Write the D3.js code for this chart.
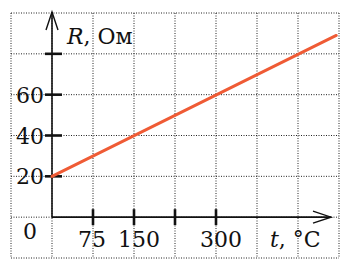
<!DOCTYPE html>
<html><head><meta charset="utf-8">
<script src="https://cdn.jsdelivr.net/npm/d3@7"></script>
<style>html,body{margin:0;padding:0;background:#fff;}</style>
</head><body>
<script>
// Data
const tValues = [0, 520];           // t, °C
const rValues = [20, 89];           // R, Ом
const xTicks = [75, 150, 225, 300];
const xTickLabels = ["75", "150", "", "300"];
const yTicks = [20, 40, 60, 80];
const yTickLabels = ["20", "40", "60", ""];
const xGrid = [-75, 0, 75, 150, 225, 300, 375, 450, 525];
const yGrid = [-20, 0, 20, 40, 60, 80, 100];

const W = 350, H = 268;
const svg = d3.select("body").append("svg").attr("width", W).attr("height", H);
const x = d3.scaleLinear().domain([-75, 525]).range([11, 339]);
const y = d3.scaleLinear().domain([-20, 100]).range([258, 13]);
const font = "'DejaVu Serif', 'Liberation Serif', serif";

// grid
const g = svg.append("g").attr("stroke", "#222").attr("stroke-width", 1).attr("stroke-dasharray", "1,1.5");
g.selectAll("line.v").data(xGrid).join("line")
  .attr("x1", d => x(d)).attr("x2", d => x(d)).attr("y1", y(100)).attr("y2", y(-20));
g.selectAll("line.h").data(yGrid).join("line")
  .attr("y1", d => y(d)).attr("y2", d => y(d)).attr("x1", x(-75)).attr("x2", x(525));

// axes
const ax = svg.append("g").attr("stroke", "#111").attr("fill", "none");
ax.append("line").attr("x1", x(0)).attr("x2", 331).attr("y1", y(0)).attr("y2", y(0)).attr("stroke-width", 1.6);
ax.append("line").attr("x1", x(0)).attr("x2", x(0)).attr("y1", y(0)).attr("y2", 12).attr("stroke-width", 1.6);
ax.append("path").attr("d", `M${313},${y(0)-6}L331,${y(0)}L${313},${y(0)+6}`).attr("stroke-width", 1.4);
ax.append("path").attr("d", `M${x(0)-6},30L${x(0)},12L${x(0)+6},30`).attr("stroke-width", 1.4);

// ticks
ax.selectAll("line.xt").data(xTicks).join("line")
  .attr("x1", d => x(d)).attr("x2", d => x(d)).attr("y1", y(0) - 8).attr("y2", y(0) + 8).attr("stroke-width", 2.6);
ax.selectAll("line.yt").data(yTicks).join("line")
  .attr("y1", d => y(d)).attr("y2", d => y(d)).attr("x1", x(0) - 7).attr("x2", x(0) + 10).attr("stroke-width", 2.6);

// line
svg.append("path").datum(tValues.map((t, i) => [t, rValues[i]]))
  .attr("d", d3.line().x(d => x(d[0])).y(d => y(d[1])))
  .attr("stroke", "#ef5b35").attr("stroke-width", 3).attr("fill", "none").attr("stroke-linecap", "round");

// labels
const txt = svg.append("g").attr("font-family", font).attr("font-size", 22).attr("fill", "#111");
txt.selectAll("text.yl").data(yTicks).join("text")
  .attr("x", 44).attr("y", d => y(d) + 8).attr("text-anchor", "end")
  .text((d, i) => yTickLabels[i]);
txt.selectAll("text.xl").data(xTicks).join("text")
  .attr("x", d => x(d) + (d < 100 ? -1 : 5)).attr("y", 247).attr("text-anchor", "middle")
  .text((d, i) => xTickLabels[i]);
txt.append("text").attr("x", 30).attr("y", 239).attr("text-anchor", "middle").text("0");

const rl = txt.append("text").attr("x", 67).attr("y", 44).attr("font-size", 22);
rl.append("tspan").attr("font-style", "italic").text("R");
rl.append("tspan").text(", Ом");

const tl = txt.append("text").attr("x", 270).attr("y", 247);
tl.append("tspan").attr("font-style", "italic").text("t");
tl.append("tspan").text(", °C");
</script>
</body></html>
